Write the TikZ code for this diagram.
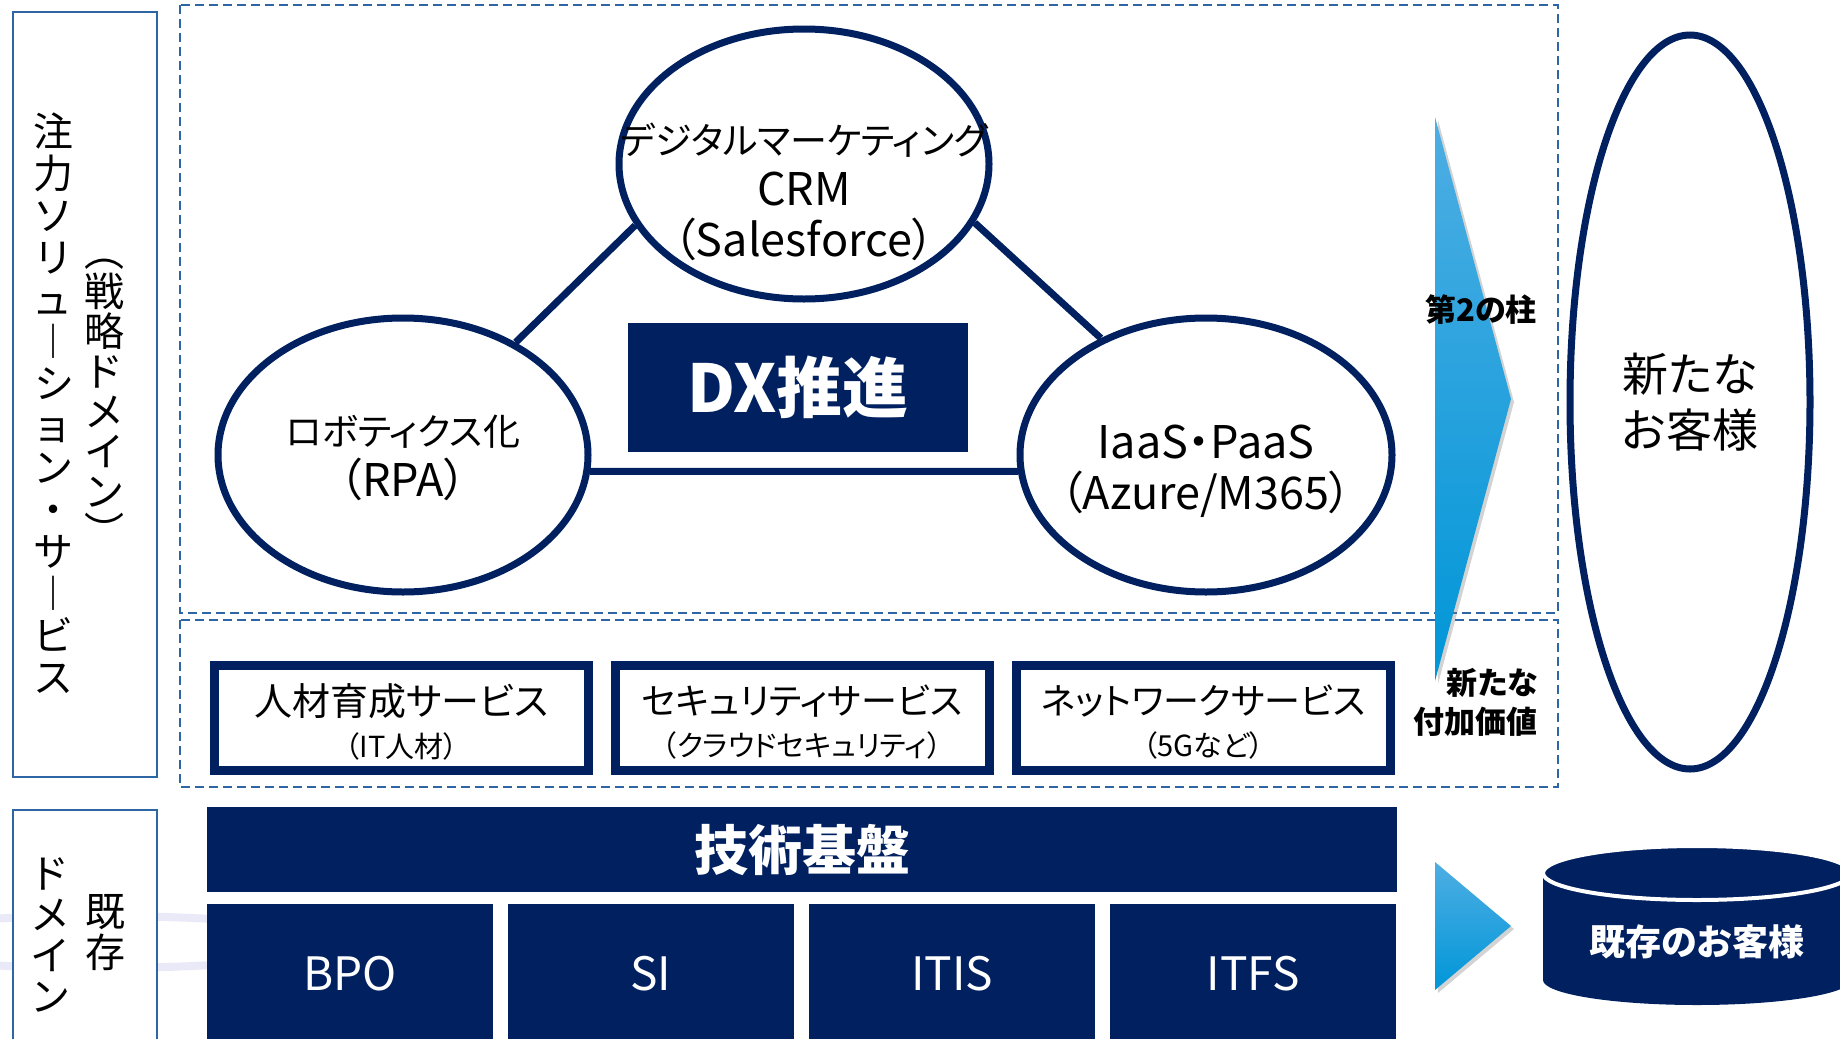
\documentclass[tikz,border=0pt]{standalone}
\usepackage{fontspec}
\setmainfont{Noto Sans CJK JP}[RawFeature=+palt]
\usetikzlibrary{positioning,shapes,shadows}
\definecolor{navy}{RGB}{0,32,96}
\definecolor{frameblue}{RGB}{46,101,165}
\definecolor{arrtop}{RGB}{78,174,227}
\definecolor{arrbot}{RGB}{0,150,216}
\definecolor{lavender}{RGB}{233,233,247}
\newcommand{\jp}[1]{{\fontsize{37}{51}\selectfont #1}}
\newcommand{\sub}[1]{{\fontsize{29}{42}\selectfont #1}}

\begin{document}
\begin{tikzpicture}[x=1pt, y=-1pt,
    bub/.style={draw=navy, line width=7pt, ellipse, inner sep=0pt},
    bubtext/.style={align=center, inner sep=0pt, font=\fontsize{45}{51}\selectfont},
    link/.style={draw=navy, line width=7pt},
    svc/.style={draw=navy, line width=9pt, fill=white, minimum width=374pt, minimum height=105pt, inner sep=0pt},
    svctext/.style={align=center, font=\fontsize{36}{42}\selectfont},
    base/.style={fill=navy, text=white, inner sep=0pt},
    frame/.style={draw=frameblue, line width=2.5pt, fill=white},
    zone/.style={draw=frameblue, line width=2.5pt, dash pattern=on 9pt off 5pt},
    vtxt/.style={align=center, inner sep=0pt, font=\fontsize{40}{42}\selectfont},
    pillar/.style={top color=arrtop, bottom color=arrbot, drop shadow={shadow xshift=3pt, shadow yshift=-3pt, opacity=.35}},
    note/.style={align=right, inner sep=0pt, font=\bfseries\fontsize{31}{39}\selectfont}]
    \useasboundingbox (0,0) rectangle (1840,1039);
    \clip (0,0) rectangle (1840,1039);

    \draw[lavender, line width=8pt] (100,942) ellipse [x radius=240pt, y radius=26pt];

    % left labels
    \draw[frame] (13,12) rectangle (157,777);
    \draw[frame] (13,810) rectangle (157,1060);
    \node[vtxt] (focus) at (53,403) {注\\力\\ソ\\リ\\ュ\\︱\\シ\\ョ\\ン\\・\\サ\\︱\\ビ\\ス};
    \node[vtxt, font=\fontsize{40}{40}\selectfont] (strat) at (104,403) {︵\\戦\\略\\ド\\メ\\イ\\ン\\︶};
    \node[vtxt, font=\fontsize{40}{41}\selectfont] (dom) at (50,935) {ド\\メ\\イ\\ン};
    \node[vtxt, font=\fontsize{40}{41}\selectfont] (exist) at (105,933) {既\\存};

    \draw[zone] (180,5) rectangle (1558,613);
    \draw[zone] (180,620) rectangle (1558,787);

    % DX triangle
    \node[bub, minimum width=370pt, minimum height=270pt] (T) at (804,164) {};
    \node[bub, minimum width=370pt, minimum height=274pt] (L) at (403,455) {};
    \node[bub, minimum width=372pt, minimum height=274pt] (R) at (1206,455) {};
    \node[bubtext] (Ttext) at (804,192) {\jp{デジタルマーケティング}\\CRM\\（Salesforce）};
    \node[bubtext] (Ltext) at (403,458) {\jp{ロボティクス化}\\（RPA）};
    \node[bubtext] (Rtext) at (1206,471) {IaaS・PaaS\\（Azure/M365）};
    \draw[link] (L.45) -- (T.200);
    \draw[link] (T.-19) -- (R.132);
    \draw[link] (L.-5) -- (R.185);
    \node[base, minimum width=340pt, minimum height=129pt, font=\bfseries\fontsize{66}{72}\selectfont] (dx) at (798,387) {DX推進};

    % services
    \node[svc] (hr) at (401.5,718) {};
    \node[svc] (sec) at (802,718) {};
    \node[svc] (net) at (1203.5,718) {};
    \node[svctext] (hrtext) at ([yshift=-4pt]hr) {{\fontsize{38}{42}\selectfont 人材育成サービス}\\\sub{（IT人材）}};
    \node[svctext] (sectext) at ([yshift=-4pt]sec) {セキュリティサービス\\\sub{（クラウドセキュリティ）}};
    \node[svctext] (nettext) at ([yshift=-4pt]net) {ネットワークサービス\\\sub{（5Gなど）}};

    % arrows
    \path[pillar] (1435,117) -- (1511,399) -- (1435,681) -- cycle;
    \path[pillar] (1435,862) -- (1511,926) -- (1435,990) -- cycle;
    \node[note] (second) at (1481,310) {第2の柱};
    \node[note, anchor=east] (added) at (1538,702) {新たな\\付加価値};

    \node[bub, minimum width=240pt, minimum height=734pt, align=center, font=\fontsize{46}{56}\selectfont] (new) at (1690,402) {新たな\\お客様};

    % existing domain
    \node[base, minimum width=1190pt, minimum height=85pt, font=\bfseries\fontsize{54}{60}\selectfont] (tech) at (802,849.5) {技術基盤};
    \foreach \name/\x in {BPO/350, SI/651, ITIS/952, ITFS/1253}
        \node[base, minimum width=286pt, minimum height=140pt, font=\fontsize{46}{52}\selectfont] (\name) at (\x,974) {\name};

    \fill[navy] (1697,980) ellipse [x radius=154pt, y radius=25pt];
    \fill[navy] (1543,873) rectangle (1851,980);
    \draw[white, line width=4pt, fill=navy] (1697,873) ellipse [x radius=154pt, y radius=27pt];
    \node[text=white, font=\bfseries\fontsize{36}{40}\selectfont] (old) at (1697,942) {既存のお客様};
\end{tikzpicture}
\end{document}
